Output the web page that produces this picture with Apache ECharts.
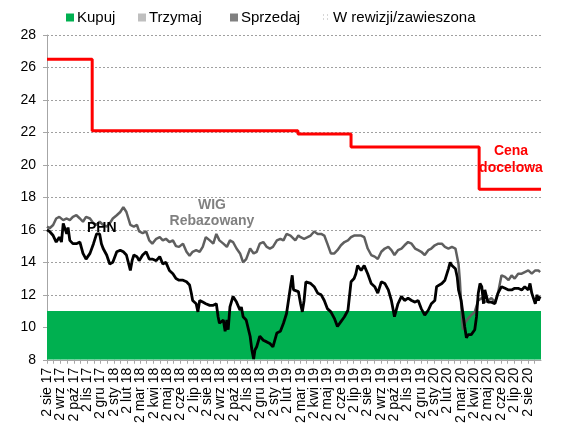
<!DOCTYPE html>
<html>
<head>
<meta charset="utf-8">
<script src="https://cdn.jsdelivr.net/npm/echarts@6/dist/echarts.min.js"></script>
<style>
html,body{margin:0;padding:0;background:#fff;}
#chart{width:561px;height:426px;}
</style>
</head>
<body>
<div id="chart"></div>
<script>
// ---- data ----
const monthNames = ['sty','lut','mar','kwi','maj','cze','lip','sie','wrz','paź','lis','gru'];
const axisStart = '2017-08-02';
const axisEnd = '2020-09-01';
const yTicks = [8, 10, 12, 14, 16, 18, 20, 22, 24, 26, 28];
const buyBand = [8, 11];

const targetPrice = [
  ['2017-08-02', 26.5], ['2017-11-13', 22.1], ['2019-02-25', 21.9],
  ['2019-06-26', 21.1], ['2020-04-13', 18.5], ['2020-09-01', 18.5]
];

const phn = [
['2017-08-02',16.0],['2017-08-08',15.9],['2017-08-16',15.65],['2017-08-23',15.25],['2017-08-30',15.55],
['2017-09-04',15.25],['2017-09-08',16.4],['2017-09-16',15.75],['2017-09-19',16.15],['2017-09-23',15.35],['2017-09-30',15.15],
['2017-10-08',15.15],['2017-10-16',15.25],['2017-10-23',14.55],['2017-10-30',14.2],
['2017-11-08',14.55],['2017-11-16',15.15],['2017-11-23',15.75],['2017-11-27',15.85],['2017-11-30',15.75],
['2017-12-04',15.15],['2017-12-08',14.85],['2017-12-16',14.45],['2017-12-23',13.9],['2017-12-30',14.0],
['2018-01-08',14.65],['2018-01-16',14.75],['2018-01-23',14.65],['2018-01-30',14.45],
['2018-02-08',13.5],['2018-02-12',14.1],['2018-02-16',14.45],['2018-02-23',14.35],['2018-02-28',14.1],
['2018-03-08',14.45],['2018-03-16',14.65],['2018-03-23',14.2],['2018-03-30',14.2],
['2018-04-08',14.1],['2018-04-16',14.35],['2018-04-23',13.9],['2018-04-30',14.0],
['2018-05-08',13.5],['2018-05-16',13.3],['2018-05-23',13.0],['2018-05-30',12.9],
['2018-06-08',12.9],['2018-06-16',12.8],['2018-06-23',12.6],['2018-06-27',12.1],['2018-06-30',11.65],
['2018-07-08',11.45],['2018-07-12',10.95],['2018-07-16',11.65],['2018-07-23',11.55],['2018-07-30',11.45],
['2018-08-08',11.35],['2018-08-16',11.35],['2018-08-23',11.45],['2018-08-27',10.65],['2018-08-30',10.25],
['2018-09-08',10.45],['2018-09-12',9.75],['2018-09-16',10.45],['2018-09-19',9.85],['2018-09-23',11.25],['2018-09-30',11.9],
['2018-10-08',11.55],['2018-10-16',11.05],['2018-10-19',11.25],['2018-10-23',10.65],['2018-10-30',10.45],
['2018-11-08',9.45],['2018-11-12',8.6],['2018-11-16',8.05],['2018-11-19',8.6],['2018-11-23',8.8],['2018-11-30',9.45],
['2018-12-08',9.2],['2018-12-16',9.1],['2018-12-23',9.0],['2018-12-30',8.8],
['2019-01-08',9.65],['2019-01-16',9.75],['2019-01-23',10.25],['2019-01-30',10.85],
['2019-02-08',12.5],['2019-02-12',13.2],['2019-02-15',12.3],['2019-02-19',12.4],['2019-02-26',12.2],
['2019-03-03',11.45],['2019-03-07',10.95],['2019-03-11',11.65],['2019-03-15',12.8],['2019-03-19',12.7],['2019-03-26',12.7],
['2019-04-03',12.5],['2019-04-11',12.1],['2019-04-19',12.0],['2019-04-26',11.65],
['2019-05-03',11.15],['2019-05-11',10.95],['2019-05-19',10.55],['2019-05-26',10.05],
['2019-06-03',10.35],['2019-06-11',10.65],['2019-06-19',11.05],['2019-06-26',12.8],
['2019-07-03',13.0],['2019-07-07',13.3],['2019-07-11',13.8],['2019-07-19',13.5],['2019-07-26',13.8],
['2019-08-03',13.3],['2019-08-11',12.7],['2019-08-19',12.5],['2019-08-26',12.1],
['2019-09-03',12.8],['2019-09-11',12.7],['2019-09-19',12.3],['2019-09-26',11.65],
['2019-10-03',10.65],['2019-10-11',11.45],['2019-10-19',11.9],['2019-10-26',11.65],
['2019-11-03',11.8],['2019-11-11',11.65],['2019-11-19',11.55],['2019-11-26',11.65],
['2019-12-03',11.15],['2019-12-11',10.75],['2019-12-19',11.05],['2019-12-26',11.45],
['2020-01-03',11.65],['2020-01-07',12.5],['2020-01-11',12.6],['2020-01-19',12.7],['2020-01-26',12.9],
['2020-02-03',13.6],['2020-02-07',14.0],['2020-02-11',13.8],['2020-02-19',13.6],['2020-02-23',13.1],['2020-02-26',12.3],
['2020-03-03',11.65],['2020-03-07',10.85],['2020-03-11',10.05],['2020-03-15',9.35],['2020-03-19',9.55],['2020-03-26',9.55],
['2020-04-03',9.85],['2020-04-07',10.65],['2020-04-11',12.1],['2020-04-15',12.7],['2020-04-19',12.5],['2020-04-23',11.45],['2020-04-26',12.3],
['2020-05-03',11.55],['2020-05-11',11.55],['2020-05-19',11.45],['2020-05-26',12.1],
['2020-06-03',12.5],['2020-06-11',12.4],['2020-06-19',12.3],['2020-06-26',12.3],
['2020-07-03',12.4],['2020-07-11',12.4],['2020-07-19',12.3],['2020-07-26',12.5],
['2020-08-03',12.3],['2020-08-07',12.7],['2020-08-11',12.1],['2020-08-19',11.45],['2020-08-23',12.0],['2020-08-26',11.65],['2020-08-30',11.9]
];

const wig = [
['2017-08-02',16.2],['2017-08-08',16.1],['2017-08-16',16.3],['2017-08-23',16.7],['2017-08-30',16.8],
['2017-09-08',16.6],['2017-09-16',16.7],['2017-09-23',16.6],['2017-09-30',16.8],
['2017-10-08',16.9],['2017-10-16',16.7],['2017-10-23',16.5],['2017-10-30',16.8],
['2017-11-08',16.7],['2017-11-16',16.4],['2017-11-23',16.3],['2017-11-30',16.5],
['2017-12-08',16.3],['2017-12-16',16.2],['2017-12-23',16.4],['2017-12-30',16.7],
['2018-01-08',16.9],['2018-01-16',17.1],['2018-01-23',17.4],['2018-01-30',17.1],
['2018-02-08',16.3],['2018-02-16',16.2],['2018-02-23',16.3],['2018-02-28',15.9],
['2018-03-08',15.8],['2018-03-16',15.9],['2018-03-23',15.35],['2018-03-30',15.15],
['2018-04-08',15.45],['2018-04-16',15.55],['2018-04-23',15.35],['2018-04-30',15.45],
['2018-05-08',15.25],['2018-05-16',15.35],['2018-05-23',15.0],['2018-05-30',14.95],
['2018-06-08',15.15],['2018-06-16',14.65],['2018-06-23',14.4],['2018-06-30',14.65],
['2018-07-08',14.75],['2018-07-16',14.65],['2018-07-23',14.95],['2018-07-30',15.55],
['2018-08-08',15.35],['2018-08-16',15.15],['2018-08-23',15.75],['2018-08-30',15.35],
['2018-09-08',15.15],['2018-09-16',14.95],['2018-09-23',15.35],['2018-09-30',15.25],
['2018-10-08',14.85],['2018-10-16',14.55],['2018-10-23',14.0],['2018-10-30',14.2],
['2018-11-08',14.85],['2018-11-16',14.55],['2018-11-23',14.65],['2018-11-30',15.15],
['2018-12-08',15.25],['2018-12-16',14.95],['2018-12-23',14.85],['2018-12-30',14.95],
['2019-01-08',15.35],['2019-01-16',15.45],['2019-01-23',15.35],['2019-01-30',15.75],
['2019-02-08',15.65],['2019-02-11',15.55],['2019-02-19',15.35],['2019-02-26',15.65],
['2019-03-03',15.55],['2019-03-11',15.45],['2019-03-19',15.55],['2019-03-26',15.65],
['2019-04-03',15.9],['2019-04-11',15.75],['2019-04-19',15.75],['2019-04-26',15.65],
['2019-05-03',15.15],['2019-05-11',14.55],['2019-05-19',14.55],['2019-05-26',14.75],
['2019-06-03',15.05],['2019-06-11',15.25],['2019-06-19',15.35],['2019-06-26',15.55],
['2019-07-03',15.65],['2019-07-11',15.65],['2019-07-19',15.65],['2019-07-26',15.55],
['2019-08-03',14.85],['2019-08-11',14.45],['2019-08-19',14.35],['2019-08-26',14.2],
['2019-09-03',14.65],['2019-09-11',14.85],['2019-09-19',14.95],['2019-09-26',14.75],
['2019-10-03',14.45],['2019-10-11',14.75],['2019-10-19',14.85],['2019-10-26',15.05],
['2019-11-03',15.25],['2019-11-11',15.15],['2019-11-19',14.85],['2019-11-26',14.75],
['2019-12-03',14.65],['2019-12-11',14.45],['2019-12-19',14.75],['2019-12-26',14.85],
['2020-01-03',15.05],['2020-01-11',15.15],['2020-01-19',15.15],['2020-01-26',14.95],
['2020-02-03',14.85],['2020-02-11',14.95],['2020-02-19',14.85],['2020-02-26',13.9],
['2020-02-29',12.9],['2020-03-03',11.45],['2020-03-07',9.85],['2020-03-11',10.25],['2020-03-19',10.55],['2020-03-26',10.75],
['2020-04-03',10.95],['2020-04-11',11.65],['2020-04-19',11.8],['2020-04-26',11.55],
['2020-05-03',11.65],['2020-05-11',11.8],['2020-05-19',11.55],['2020-05-26',12.1],
['2020-06-03',13.2],['2020-06-11',13.1],['2020-06-19',12.9],['2020-06-26',13.2],
['2020-07-03',13.0],['2020-07-11',13.3],['2020-07-19',13.3],['2020-07-26',13.4],
['2020-08-03',13.5],['2020-08-11',13.3],['2020-08-19',13.5],['2020-08-26',13.5],['2020-08-30',13.4]
];

const legendNames = ['Kupuj', 'Trzymaj', 'Sprzedaj', 'W rewizji/zawieszona'];

// ---- helpers ----
const FONT = '"Liberation Sans", Arial, sans-serif';
function parseD(s){ const p = s.split('-').map(Number); return new Date(p[0], p[1]-1, p[2]).getTime(); }
const tickTimes = [];
const monthLabels = [];
(function(){
  let d = new Date(2017, 7, 2);
  const end = parseD(axisEnd);
  while (d.getTime() <= end) {
    monthLabels.push('2 ' + monthNames[d.getMonth()] + ' ' + String(d.getFullYear()).slice(2));
    tickTimes.push(d.getTime());
    const mid = new Date(d.getFullYear(), d.getMonth(), 17).getTime();
    if (mid <= end) tickTimes.push(mid);
    d = new Date(d.getFullYear(), d.getMonth()+1, 2);
  }
  monthLabels.push(''); // axis end (1 Sep 2020)
})();

// dotted pattern for "W rewizji/zawieszona"
const pc = document.createElement('canvas');
pc.width = 4; pc.height = 4;
const pctx = pc.getContext('2d');
pctx.fillStyle = '#ffffff'; pctx.fillRect(0,0,4,4);
pctx.fillStyle = '#b0b0b0'; pctx.fillRect(1,1,1,1);

const chart = echarts.init(document.getElementById('chart'), null, {renderer:'canvas'});

function legendAt(name, left, color){
  return {
    data: [{name: name, icon: 'rect', itemStyle: {color: color}}],
    left: left, top: 10, itemWidth: 8, itemHeight: 8, itemGap: 0,
    selectedMode: false, padding: 0,
    textStyle: {fontFamily: FONT, fontSize: 15, color: '#000', padding: [0,0,0,-2]}
  };
}

const option = {
  animation: false,
  backgroundColor: '#fff',
  legend: [
    legendAt(legendNames[0], 66, '#00B050'),
    legendAt(legendNames[1], 138, '#BFBFBF'),
    legendAt(legendNames[2], 230, '#808080'),
    legendAt(legendNames[3], 322, {image: pc, repeat: 'repeat'})
  ],
  grid: {left: 47, right: 20, top: 35, bottom: 63.5, containLabel: false},
  xAxis: [{
    type: 'value',
    min: parseD(axisStart),
    max: parseD(axisEnd),
    axisLine: {show: true, onZero: false, lineStyle: {color: '#a6a6a6', width: 1}},
    axisTick: {show: true, customValues: tickTimes, length: 4, lineStyle: {color: '#a6a6a6'}},
    axisLabel: {show: false},
    splitLine: {show: false}
  }, {
    type: 'category',
    position: 'bottom',
    data: monthLabels,
    boundaryGap: false,
    axisLine: {show: false},
    axisTick: {show: false},
    splitLine: {show: false},
    axisLabel: {
      show: true, interval: 0, rotate: 90, margin: 8,
      fontFamily: FONT, fontSize: 14, color: '#000'
    }
  }],
  yAxis: {
    type: 'value', min: yTicks[0], max: yTicks[yTicks.length-1], interval: 2,
    axisLine: {show: true, lineStyle: {color: '#a6a6a6', width: 1}},
    axisTick: {show: true, length: 4, lineStyle: {color: '#a6a6a6'}},
    axisLabel: {fontFamily: FONT, fontSize: 14, color: '#000', margin: 11},
    splitLine: {show: true, lineStyle: {color: '#a0a0a0', type: [2,2], width: 1}}
  },
  series: [
    {
      name: legendNames[0], type: 'line', color: '#00B050',
      data: [[parseD(axisStart), buyBand[1]], [parseD(axisEnd), buyBand[1]]],
      showSymbol: false, lineStyle: {width: 0},
      areaStyle: {color: '#00B050', opacity: 1, origin: 'start'},
      z: 1, silent: true
    },
    {name: legendNames[1], type: 'line', color: '#BFBFBF', data: []},
    {name: legendNames[2], type: 'line', color: '#808080', data: []},
    {name: legendNames[3], type: 'line', color: '#eeeeee', data: []},
    {
      name: 'WIG Rebazowany', type: 'line', showSymbol: false,
      data: wig.map(p => [parseD(p[0]), p[1]]),
      lineStyle: {color: '#5f5f5f', width: 2.5}, itemStyle: {color: '#5f5f5f'}, z: 3
    },
    {
      name: 'PHN', type: 'line', showSymbol: false,
      data: phn.map(p => [parseD(p[0]), p[1]]),
      lineStyle: {color: '#000', width: 2.8}, itemStyle: {color: '#000'}, z: 4
    },
    {
      name: 'Cena docelowa', type: 'line', step: 'end', showSymbol: false,
      data: targetPrice.map(p => [parseD(p[0]), p[1]]),
      lineStyle: {color: '#ff0000', width: 3}, itemStyle: {color: '#ff0000'}, z: 5
    }
  ],
  graphic: [
    {type: 'text', x: 511, y: 143, z: 10, style: {text: 'Cena\ndocelowa', fill: '#ff0000', font: 'bold 14px ' + FONT, align: 'center', lineHeight: 17}},
    {type: 'text', x: 212, y: 197, z: 10, style: {text: 'WIG\nRebazowany', fill: '#808080', font: 'bold 14px ' + FONT, align: 'center', lineHeight: 16}},
    {type: 'text', x: 87, y: 221, z: 10, style: {text: 'PHN', fill: '#000', font: 'bold 14px ' + FONT}}
  ]
};
chart.setOption(option);
</script>
</body>
</html>
